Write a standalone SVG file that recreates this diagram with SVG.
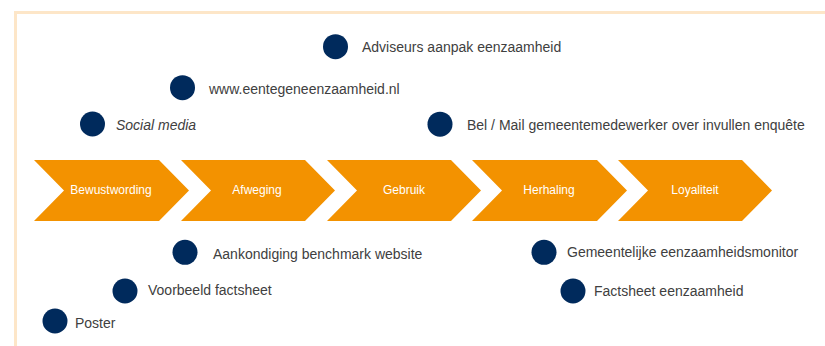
<svg xmlns="http://www.w3.org/2000/svg" width="825" height="346" viewBox="0 0 825 346">
<style>
.chev{fill:#F39200}
.ct{fill:#ffffff;font-family:"Liberation Sans",Arial,sans-serif;font-size:12px;text-anchor:middle}
.dot{fill:#002A5C}
.lb{fill:#404040;font-family:"Liberation Sans",Arial,sans-serif;font-size:14px}
</style>
<rect width="825" height="346" fill="#ffffff"/>
<g id="frame" fill="none" stroke="#FDE6C8" stroke-width="3">
<path d="M15.5,346 L15.5,12.5 L825,12.5"/>
</g>
<g id="phases">
<g id="bewustwording"><path class="chev" d="M34,160 L159,160 L189,190.5 L159,221 L34,221 L64,190.5 Z"/><text class="ct" x="111" y="194">Bewustwording</text></g>
<g id="afweging"><path class="chev" d="M181,160 L305,160 L335,190.5 L305,221 L181,221 L211,190.5 Z"/><text class="ct" x="257" y="194">Afweging</text></g>
<g id="gebruik"><path class="chev" d="M327,160 L451,160 L481,190.5 L451,221 L327,221 L357,190.5 Z"/><text class="ct" x="404" y="194">Gebruik</text></g>
<g id="herhaling"><path class="chev" d="M472,160 L597,160 L627,190.5 L597,221 L472,221 L502,190.5 Z"/><text class="ct" x="549" y="194">Herhaling</text></g>
<g id="loyaliteit"><path class="chev" d="M618,160 L742,160 L772,190.5 L742,221 L618,221 L648,190.5 Z"/><text class="ct" x="695" y="194">Loyaliteit</text></g>
</g>
<g id="connectors"></g>
<g id="adviseurs"><circle class="dot" cx="335.5" cy="46.7" r="12.5"/><text class="lb" x="362" y="52">Adviseurs aanpak eenzaamheid</text></g>
<g id="website"><circle class="dot" cx="182.5" cy="87.7" r="12.5"/><text class="lb" x="209" y="93.5">www.eentegeneenzaamheid.nl</text></g>
<g id="socialmedia"><circle class="dot" cx="92.5" cy="124" r="12.5"/><text class="lb" x="116" y="130" font-style="italic">Social media</text></g>
<g id="belmail"><circle class="dot" cx="440" cy="124.2" r="12.5"/><text class="lb" x="467" y="130">Bel / Mail gemeentemedewerker over invullen enquête</text></g>
<g id="aankondiging"><circle class="dot" cx="185" cy="252.3" r="12.5"/><text class="lb" x="213" y="258.5">Aankondiging benchmark website</text></g>
<g id="voorbeeld"><circle class="dot" cx="125" cy="291" r="12.5"/><text class="lb" x="148" y="295">Voorbeeld factsheet</text></g>
<g id="poster"><circle class="dot" cx="55" cy="321" r="12.5"/><text class="lb" x="75" y="328">Poster</text></g>
<g id="monitor"><circle class="dot" cx="544" cy="252.3" r="12.5"/><text class="lb" x="567" y="256.5">Gemeentelijke eenzaamheidsmonitor</text></g>
<g id="factsheet"><circle class="dot" cx="573" cy="291" r="12.5"/><text class="lb" x="594" y="296">Factsheet eenzaamheid</text></g>
</svg>
